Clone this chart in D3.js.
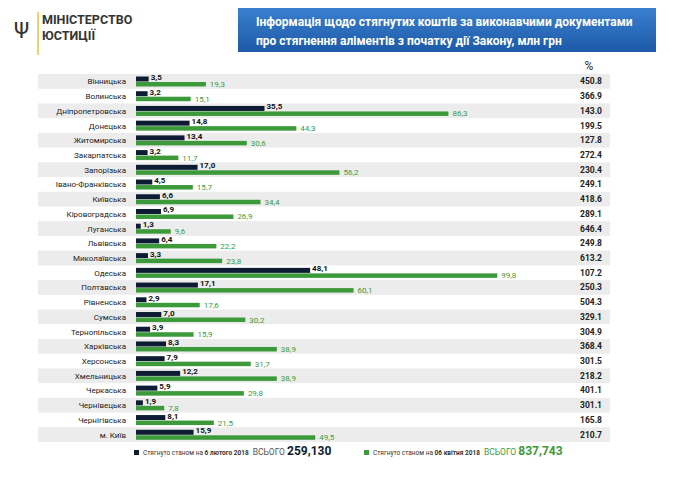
<!DOCTYPE html><html><head><meta charset="utf-8"><script src="https://cdn.jsdelivr.net/npm/d3@7"></script>
<style>body{margin:0;background:#fff}text{font-family:Roboto,"Liberation Sans",sans-serif}</style></head><body><svg id="c" width="687" height="481"></svg><script>
const regions=["Вінницька","Волинська","Дніпропетровська","Донецька","Житомирська","Закарпатська","Запорізька","Івано-Франківська","Київська","Кіровоградська","Луганська","Львівська","Миколаївська","Одеська","Полтавська","Рівненська","Сумська","Тернопільська","Харківська","Херсонська","Хмельницька","Черкаська","Чернівецька","Чернігівська","м. Київ"];
const feb=[3.5,3.2,35.5,14.8,13.4,3.2,17.0,4.5,6.6,6.9,1.3,6.4,3.3,48.1,17.1,2.9,7.0,3.9,8.3,7.9,12.2,5.9,1.9,8.1,15.9];
const apr=[19.3,15.1,86.3,44.3,30.6,11.7,56.2,15.7,34.4,26.9,9.6,22.2,23.8,99.8,60.1,17.6,30.2,15.9,38.9,31.7,38.9,29.8,7.8,21.5,49.5];
const pct=["450.8","366.9","143.0","199.5","127.8","272.4","230.4","249.1","418.6","289.1","646.4","249.8","613.2","107.2","250.3","504.3","329.1","304.9","368.4","301.5","218.2","401.1","301.1","165.8","210.7"];
const svg=d3.select("#c");
const dark="#0d1b33",green="#3c9a3a";
const fmt=v=>v.toFixed(1).replace(".",",");
const x=d3.scaleLinear().domain([0,100]).range([136,498]);
const y=d3.scaleBand().domain(regions).range([74,442]);
const g=svg.append("defs").append("linearGradient").attr("id","bg").attr("x1",0).attr("y1",0).attr("x2",0).attr("y2",1);
g.append("stop").attr("offset",0).attr("stop-color","#3a7fcf");g.append("stop").attr("offset",1).attr("stop-color","#1d5aa8");
svg.append("rect").attr("x",238).attr("y",8).attr("width",418).attr("height",44).attr("fill","url(#bg)");
svg.append("text").attr("x",256).attr("y",26).attr("fill","#fff").attr("font-size",12).attr("font-weight","bold").text("Інформація щодо стягнутих коштів за виконавчими документами");
svg.append("text").attr("x",256).attr("y",45).attr("fill","#fff").attr("font-size",12).attr("font-weight","bold").text("про стягнення аліментів з початку дії Закону, млн грн");
svg.append("line").attr("x1",38).attr("x2",38).attr("y1",12).attr("y2",55).attr("stroke","#e8c33a").attr("stroke-width",1.5);
svg.append("text").attr("x",14).attr("y",38).attr("font-size",22).attr("fill","#333").text("Ψ");
svg.append("text").attr("x",42).attr("y",24).attr("font-size",12.5).attr("font-weight","bold").attr("fill","#333").text("МІНІСТЕРСТВО");
svg.append("text").attr("x",42).attr("y",40).attr("font-size",12.5).attr("font-weight","bold").attr("fill","#333").text("ЮСТИЦІЇ");
svg.append("text").attr("x",589).attr("y",70).attr("text-anchor","middle").attr("font-size",12).attr("fill","#333").text("%");
const rows=svg.selectAll(".r").data(regions).join("g");
rows.filter((d,i)=>i%2==0).append("rect").attr("x",38).attr("width",572).attr("y",d=>y(d)).attr("height",y.bandwidth()).attr("fill","#ececec");
rows.append("text").attr("x",126).attr("y",d=>y(d)+y.bandwidth()/2+3).attr("text-anchor","end").attr("font-size",8).attr("fill","#222").text(d=>d);
rows.append("rect").attr("x",x(0)).attr("y",d=>y(d)+2.5).attr("height",5).attr("width",(d,i)=>x(feb[i])-x(0)).attr("fill",dark);
rows.append("rect").attr("x",x(0)).attr("y",d=>y(d)+8).attr("height",4.5).attr("width",(d,i)=>x(apr[i])-x(0)).attr("fill",green);
rows.append("text").attr("x",(d,i)=>x(feb[i])+2).attr("y",d=>y(d)+6).attr("font-size",8).attr("font-weight","bold").attr("fill","#111").text((d,i)=>fmt(feb[i]));
rows.append("text").attr("x",(d,i)=>x(apr[i])+4).attr("y",d=>y(d)+13).attr("font-size",8).attr("fill",green).text((d,i)=>fmt(apr[i]));
rows.append("text").attr("x",602).attr("y",d=>y(d)+y.bandwidth()/2+3).attr("text-anchor","end").attr("font-size",8.5).attr("font-weight","bold").attr("fill","#222").text((d,i)=>pct[i]);
const L=svg.append("g").attr("font-size",6.5);
L.append("rect").attr("x",134).attr("y",450).attr("width",5).attr("height",5).attr("fill",dark);
const t1=L.append("text").attr("x",143).attr("y",455).attr("fill","#333");
t1.append("tspan").text("Стягнуто станом на ");t1.append("tspan").attr("font-weight","bold").text("6 лютого 2018");
t1.append("tspan").attr("dx",4).attr("font-size",8.5).attr("fill","#555").text("ВСЬОГО ");t1.append("tspan").attr("font-size",12).attr("font-weight","bold").attr("fill",dark).text("259,130");
L.append("rect").attr("x",364).attr("y",450).attr("width",5).attr("height",5).attr("fill",green);
const t2=L.append("text").attr("x",373).attr("y",455).attr("fill","#333");
t2.append("tspan").text("Стягнуто станом на ");t2.append("tspan").attr("font-weight","bold").text("06 квітня 2018");
t2.append("tspan").attr("dx",4).attr("font-size",8.5).attr("fill",green).text("ВСЬОГО ");t2.append("tspan").attr("font-size",12).attr("font-weight","bold").attr("fill",green).text("837,743");
</script></body></html>
